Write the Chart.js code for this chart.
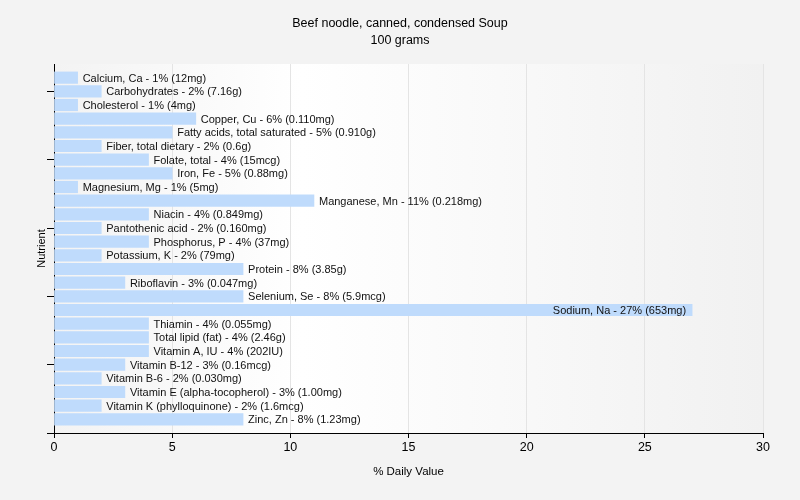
<!DOCTYPE html>
<html>
<head>
<meta charset="utf-8">
<script src="https://cdn.jsdelivr.net/npm/chart.js@4.4.1/dist/chart.umd.min.js"></script>
<style>
  html, body { margin: 0; padding: 0; background: #f3f3f3; }
  #wrap { width: 800px; height: 500px; }
</style>
</head>
<body>
<div id="wrap"><canvas id="nutrientChart"></canvas></div>
<script>
const nutrients = [
  'Calcium, Ca', 'Carbohydrates', 'Cholesterol', 'Copper, Cu',
  'Fatty acids, total saturated', 'Fiber, total dietary', 'Folate, total',
  'Iron, Fe', 'Magnesium, Mg', 'Manganese, Mn', 'Niacin', 'Pantothenic acid',
  'Phosphorus, P', 'Potassium, K', 'Protein', 'Riboflavin', 'Selenium, Se',
  'Sodium, Na', 'Thiamin', 'Total lipid (fat)', 'Vitamin A, IU',
  'Vitamin B-12', 'Vitamin B-6', 'Vitamin E (alpha-tocopherol)',
  'Vitamin K (phylloquinone)', 'Zinc, Zn'
];
const dailyValues = [1, 2, 1, 6, 5, 2, 4, 5, 1, 11, 4, 2, 4, 2, 8, 3, 8, 27, 4, 4, 4, 3, 2, 3, 2, 8];
const amounts = [
  '12mg', '7.16g', '4mg', '0.110mg', '0.910g', '0.6g', '15mcg', '0.88mg',
  '5mg', '0.218mg', '0.849mg', '0.160mg', '37mg', '79mg', '3.85g', '0.047mg',
  '5.9mcg', '653mg', '0.055mg', '2.46g', '202IU', '0.16mcg', '0.030mg',
  '1.00mg', '1.6mcg', '1.23mg'
];
const titleLines = ['Beef noodle, canned, condensed Soup', '100 grams'];
const xTicks = [0, 5, 10, 15, 20, 25, 30];
const yTickMarks = [1, 6, 11, 16, 21, 26];

const FONT = 'Liberation Sans, Arial, sans-serif';

// background: grey page, soft gradient inside the plot, centred title
const backgroundPlugin = {
  id: 'bg',
  beforeDraw(chart) {
    const { ctx, chartArea: a } = chart;
    ctx.save();
    ctx.fillStyle = '#f3f3f3';
    ctx.fillRect(0, 0, chart.width, chart.height);
    const g = ctx.createLinearGradient(a.left, 0, a.right, 0);
    g.addColorStop(0, '#f3f3f3');
    g.addColorStop(0.35, '#ffffff');
    g.addColorStop(1, '#f1f1f1');
    ctx.fillStyle = g;
    ctx.fillRect(a.left, a.top, a.right - a.left, a.bottom - a.top);

    ctx.fillStyle = '#000';
    ctx.font = '12.5px ' + FONT;
    ctx.textAlign = 'center';
    ctx.textBaseline = 'middle';
    titleLines.forEach((t, i) => ctx.fillText(t, chart.width / 2, 24 + i * 17));
    ctx.restore();
  }
};

// text next to each bar
const barLabelPlugin = {
  id: 'barLabels',
  afterDatasetsDraw(chart) {
    const { ctx, chartArea } = chart;
    const meta = chart.getDatasetMeta(0);
    ctx.save();
    ctx.font = '11px ' + FONT;
    ctx.fillStyle = '#111';
    ctx.textBaseline = 'middle';
    meta.data.forEach((bar, i) => {
      const text = `${nutrients[i]} - ${dailyValues[i]}% (${amounts[i]})`;
      const w = ctx.measureText(text).width;
      if (bar.x + 5 + w > chartArea.right) {
        ctx.textAlign = 'right';
        ctx.fillText(text, bar.x - 6, bar.y + 1);
      } else {
        ctx.textAlign = 'left';
        ctx.fillText(text, bar.x + 5, bar.y + 1);
      }
    });
    ctx.restore();
  }
};

new Chart(document.getElementById('nutrientChart'), {
  type: 'bar',
  data: {
    datasets: [{
      data: dailyValues.map((v, i) => ({ x: v, y: i })),
      backgroundColor: '#bfdbfc',
      borderWidth: 0,
      barThickness: 11.5
    }]
  },
  options: {
    indexAxis: 'y',
    responsive: true,
    maintainAspectRatio: false,
    animation: false,
    layout: { padding: { left: 0, right: 37, top: 64, bottom: 0 } },
    plugins: {
      legend: { display: false },
      tooltip: { enabled: false },
      title: { display: false }
    },
    scales: {
      x: {
        type: 'linear',
        min: 0,
        max: 30,
        afterBuildTicks: (scale) => { scale.ticks = xTicks.map(v => ({ value: v })); },
        afterFit: (scale) => { scale.height = 67; },
        ticks: {
          color: '#000',
          font: { family: FONT, size: 12.5 },
          padding: 2
        },
        grid: {
          color: '#e4e4e4',
          tickColor: '#000',
          tickLength: 5
        },
        border: { display: true, color: '#000' },
        title: {
          display: true,
          text: '% Daily Value',
          color: '#000',
          font: { family: FONT, size: 11.5 },
          padding: { top: 0, bottom: 21 }
        }
      },
      y: {
        type: 'linear',
        min: -1,
        max: 26,
        reverse: true,
        offset: false,
        afterBuildTicks: (scale) => { scale.ticks = yTickMarks.map(v => ({ value: v })); },
        afterFit: (scale) => { scale.width = 54; },
        ticks: { autoSkip: false, callback: () => '' },
        grid: {
          offset: false,
          drawOnChartArea: false,
          tickColor: '#000',
          tickLength: 7
        },
        border: { display: true, color: '#000' },
        title: {
          display: true,
          text: 'Nutrient',
          color: '#000',
          font: { family: FONT, size: 11 },
          padding: { top: 35, bottom: 0 }
        }
      }
    }
  },
  plugins: [backgroundPlugin, barLabelPlugin]
});
</script>
</body>
</html>
